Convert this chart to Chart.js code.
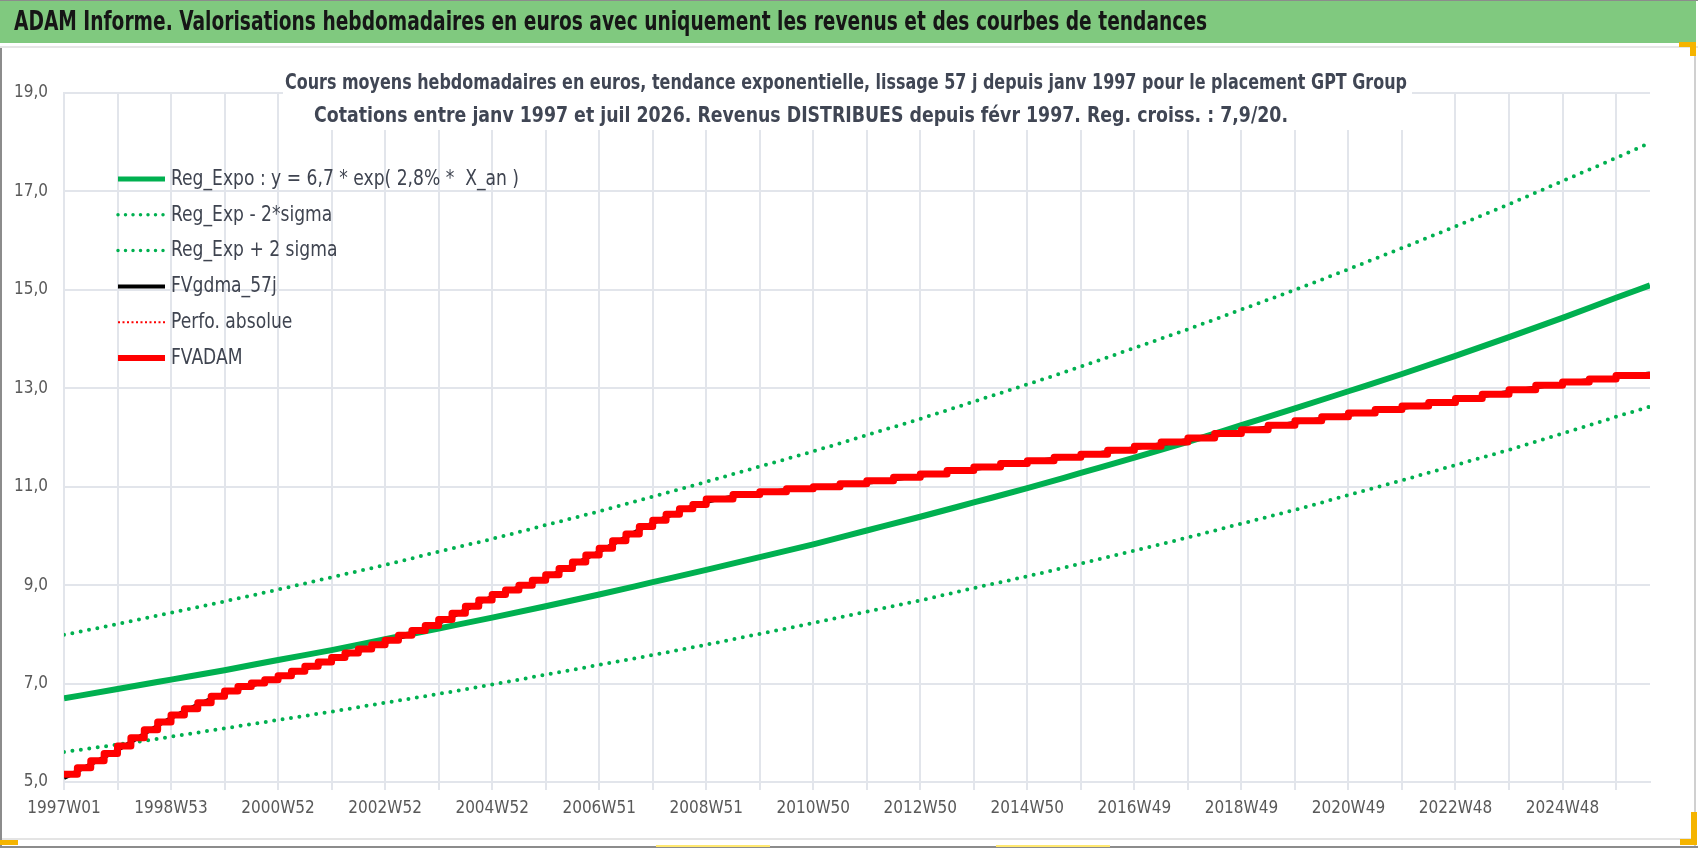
<!DOCTYPE html>
<html>
<head>
<meta charset="utf-8">
<title>ADAM Informe - GPT Group</title>
<script src="https://cdn.jsdelivr.net/npm/chart.js@4.4.1/dist/chart.umd.min.js"></script>
<style>
  html, body { margin: 0; padding: 0; background: #fff; }
  #wrap { position: relative; width: 1698px; height: 848px; overflow: hidden; }
</style>
</head>
<body>
<div id="wrap"><canvas id="adamChart" width="1698" height="848"></canvas></div>
<script>
const FONT = "'Liberation Sans Narrow', 'DejaVu Sans Condensed', Roboto, sans-serif";

// texts
const pageTitle = 'ADAM Informe. Valorisations hebdomadaires en euros avec uniquement les revenus et des courbes de tendances';
const subTitle = [
  'Cours moyens hebdomadaires en euros, tendance exponentielle, lissage 57 j depuis janv 1997 pour le placement GPT Group',
  'Cotations entre janv 1997 et juil 2026. Revenus DISTRIBUES depuis févr 1997. Reg. croiss. : 7,9/20.'
];
const seriesNames = ['Reg_Expo : y = 6,7 * exp( 2,8% *  X_an )', 'Reg_Exp - 2*sigma', 'Reg_Exp + 2 sigma',
  'FVgdma_57j', 'Perfo. absolue', 'FVADAM'];

// x axis: weeks counted from 1997W01, one label every 104 weeks
const tickLabels = ['1997W01', '1998W53', '2000W52', '2002W52', '2004W52', '2006W51', '2008W51', '2010W50',
  '2012W50', '2014W50', '2016W49', '2018W49', '2020W49', '2022W48', '2024W48'];
const lastWeek = 1541; // juil 2026

// yearly samples for the trend curves and the smoothed value
const trendWeeks = [0, 52, 104, 156, 208, 260, 312, 364, 416, 468, 520, 572, 624, 676, 728, 780, 832, 884,
  936, 988, 1040, 1092, 1144, 1196, 1248, 1300, 1352, 1404, 1456, 1508, 1541];
const regExpo = [6.70, 6.89, 7.08, 7.27, 7.48, 7.68, 7.90, 8.12, 8.34, 8.57, 8.81, 9.06, 9.31, 9.57, 9.83,
  10.11, 10.39, 10.68, 10.97, 11.28, 11.59, 11.91, 12.25, 12.59, 12.94, 13.29, 13.66, 14.04, 14.43, 14.84, 15.09];
const regLow = [5.61, 5.76, 5.92, 6.09, 6.26, 6.43, 6.61, 6.79, 6.98, 7.18, 7.38, 7.58, 7.79, 8.01, 8.23,
  8.46, 8.69, 8.94, 9.18, 9.44, 9.70, 9.97, 10.25, 10.53, 10.83, 11.13, 11.44, 11.75, 12.08, 12.42, 12.63];
const regHigh = [7.99, 8.21, 8.44, 8.67, 8.91, 9.16, 9.41, 9.68, 9.94, 10.22, 10.50, 10.80, 11.10, 11.41, 11.72,
  12.05, 12.38, 12.73, 13.08, 13.44, 13.82, 14.20, 14.60, 15.00, 15.42, 15.85, 16.29, 16.74, 17.21, 17.68, 17.99];
const gdma57 = [5.08, 5.65, 6.30, 6.80, 7.11, 7.48, 7.83, 8.23, 8.76, 9.15, 9.68, 10.26, 10.69, 10.87, 10.98,
  11.08, 11.22, 11.36, 11.50, 11.63, 11.78, 11.95, 12.12, 12.30, 12.46, 12.60, 12.75, 12.93, 13.10, 13.22, 13.30];

// FVADAM: quarterly steps until 2008 (every 13 weeks), then half-yearly steps (every 26 weeks from week 624)
const fvQuarterly = [5.16, 5.29, 5.43, 5.58, 5.73, 5.90, 6.06, 6.22, 6.36, 6.49, 6.61, 6.74, 6.85, 6.94, 7.01, 7.08,
  7.16, 7.25, 7.35, 7.44, 7.53, 7.62, 7.70, 7.79, 7.88, 7.98, 8.08, 8.18, 8.30, 8.43, 8.57, 8.70,
  8.81, 8.90, 9.00, 9.10, 9.21, 9.34, 9.47, 9.61, 9.75, 9.90, 10.04, 10.19, 10.32, 10.44, 10.55, 10.64];
const fvHalfYear = [10.75, 10.84, 10.90, 10.96, 11.00, 11.06, 11.12, 11.19, 11.26, 11.33, 11.40, 11.47, 11.53,
  11.60, 11.66, 11.74, 11.82, 11.91, 11.99, 12.08, 12.16, 12.25, 12.34, 12.42, 12.50, 12.57, 12.64, 12.71,
  12.79, 12.88, 12.97, 13.06, 13.13, 13.19, 13.26];
const fvLast = 13.32;

const xy = (weeks, values) => values.map((v, i) => ({ x: weeks[i], y: v }));
const fvPoints = fvQuarterly.map((v, i) => ({ x: 13 * i, y: v }))
  .concat(fvHalfYear.map((v, j) => ({ x: 624 + 26 * j, y: v })))
  .concat([{ x: lastWeek, y: fvLast }]);

const gridWeeks = [];
for (let w = 0; w <= lastWeek; w += 52) gridWeeks.push(w);

const GREEN = '#00B050';
const RED = '#FF0000';
const GRID = '#E2E5EB';
const TEXT = '#404654';

// legend sample styles, one per dataset
const legendStyle = [
  { width: 5, dash: [], cap: 'butt' },
  { width: 3.5, dash: [0, 7.5], cap: 'round' },
  { width: 3.5, dash: [0, 7.5], cap: 'round' },
  { width: 4, dash: [], cap: 'butt' },
  { width: 2, dash: [2, 2.5], cap: 'butt' },
  { width: 6, dash: [], cap: 'butt' }
];

function drawFitted(ctx, text, x, y, width, font, color) {
  ctx.save();
  ctx.font = font;
  ctx.fillStyle = color;
  ctx.textBaseline = 'middle';
  ctx.textAlign = 'left';
  const w = ctx.measureText(text).width;
  ctx.translate(x, y);
  ctx.scale(width / w, 1);
  ctx.fillText(text, 0, 0);
  ctx.restore();
}

// background, green header bar and sheet borders
const framePlugin = {
  id: 'frame',
  beforeDraw(chart) {
    const ctx = chart.ctx;
    ctx.save();
    ctx.fillStyle = '#fff';
    ctx.fillRect(0, 0, 1698, 848);
    ctx.fillStyle = '#80C97F';
    ctx.fillRect(0, 0, 1696, 43);
    ctx.fillStyle = '#8C8C8C';
    ctx.fillRect(0, 0, 1698, 1);
    ctx.fillStyle = '#E6E6E6';
    ctx.fillRect(0, 46, 1698, 2);
    ctx.fillStyle = '#8C8C8C';
    ctx.fillRect(0, 48, 2, 800);
    ctx.fillRect(0, 846, 1698, 2);
    ctx.fillStyle = '#D0D0D0';
    ctx.fillRect(1694, 48, 2, 798);
    ctx.fillStyle = '#E4E4E4';
    ctx.fillRect(2, 838, 1692, 2);
    ctx.fillStyle = '#F5B400';
    ctx.fillRect(1679, 42, 17, 5);
    ctx.fillRect(1690, 42, 6, 14);
    ctx.fillRect(0, 840, 18, 5);
    ctx.fillRect(1691, 812, 6, 33);
    ctx.fillRect(1680, 839, 17, 6);
    ctx.fillStyle = '#FFE870';
    ctx.fillRect(656, 845, 114, 2);
    ctx.fillRect(996, 845, 114, 2);
    ctx.restore();
    drawFitted(ctx, pageTitle, 14, 23, 1193, 'bold 26px ' + FONT, '#161616');
  }
};

// subtitle in its white box over the top of the plot
const subtitlePlugin = {
  id: 'subtitleBox',
  beforeDatasetsDraw(chart) {
    const ctx = chart.ctx;
    ctx.save();
    ctx.fillStyle = '#fff';
    ctx.fillRect(283, 60, 1129, 70);
    ctx.restore();
    drawFitted(ctx, subTitle[0], 285, 83, 1122, 'bold 22px ' + FONT, TEXT);
    drawFitted(ctx, subTitle[1], 314, 116, 974, 'bold 22px ' + FONT, TEXT);
  }
};

// legend drawn inside the plot area, top left
const legendPlugin = {
  id: 'insideLegend',
  afterDatasetsDraw(chart) {
    const ctx = chart.ctx;
    const font = '22px ' + FONT;
    ctx.save();
    ctx.font = font;
    const sx = 348 / ctx.measureText(seriesNames[0]).width;
    ctx.restore();
    chart.data.datasets.forEach((ds, i) => {
      const y = 179 + i * 35.8;
      const st = legendStyle[i];
      ctx.save();
      ctx.strokeStyle = ds.borderColor;
      ctx.lineWidth = st.width;
      ctx.lineCap = st.cap;
      ctx.setLineDash(st.dash);
      ctx.beginPath();
      ctx.moveTo(118, y);
      ctx.lineTo(165, y);
      ctx.stroke();
      ctx.restore();
      ctx.save();
      ctx.font = font;
      ctx.fillStyle = '#3F4450';
      ctx.textBaseline = 'middle';
      ctx.translate(171, y);
      ctx.scale(sx, 1);
      ctx.fillText(ds.label, 0, 0);
      ctx.restore();
    });
  }
};

const dotted = { borderWidth: 4, borderDash: [0, 8.5], borderCapStyle: 'round' };

new Chart(document.getElementById('adamChart'), {
  type: 'line',
  data: {
    datasets: [{
      label: seriesNames[0],
      data: xy(trendWeeks, regExpo),
      borderColor: GREEN,
      borderWidth: 6,
      cubicInterpolationMode: 'monotone',
      order: 6
    }, {
      label: seriesNames[1],
      data: xy(trendWeeks, regLow),
      borderColor: GREEN,
      ...dotted,
      cubicInterpolationMode: 'monotone',
      order: 5
    }, {
      label: seriesNames[2],
      data: xy(trendWeeks, regHigh),
      borderColor: GREEN,
      ...dotted,
      cubicInterpolationMode: 'monotone',
      order: 4
    }, {
      label: seriesNames[3],
      data: xy(trendWeeks, gdma57),
      borderColor: '#000000',
      borderWidth: 4,
      cubicInterpolationMode: 'monotone',
      order: 2
    }, {
      label: seriesNames[4],
      data: [],
      borderColor: RED,
      borderWidth: 2,
      borderDash: [2, 2.5],
      order: 3
    }, {
      label: seriesNames[5],
      data: fvPoints,
      borderColor: RED,
      borderWidth: 7,
      stepped: true,
      borderJoinStyle: 'round',
      order: 1
    }]
  },
  options: {
    responsive: false,
    animation: false,
    parsing: false,
    layout: { padding: { top: 93, right: 48, bottom: 0, left: 0 } },
    elements: { point: { radius: 0 }, line: { fill: false } },
    scales: {
      x: {
        type: 'linear',
        min: 0,
        max: lastWeek,
        afterBuildTicks: axis => { axis.ticks = gridWeeks.map(v => ({ value: v })); },
        afterFit: axis => { axis.height = 66; },
        ticks: {
          autoSkip: false,
          maxRotation: 0,
          padding: 8,
          color: '#595959',
          font: { family: FONT, size: 17 },
          callback: v => (v % 104 === 0 ? tickLabels[v / 104] : '')
        },
        grid: { color: GRID, lineWidth: 2, tickLength: 8, drawTicks: true },
        border: { display: true, color: GRID, width: 2 }
      },
      y: {
        min: 5,
        max: 19,
        afterFit: axis => { axis.width = 64; },
        ticks: {
          stepSize: 2,
          padding: 16,
          color: '#595959',
          font: { family: FONT, size: 17 },
          callback: v => v.toFixed(1).replace('.', ',')
        },
        grid: { color: GRID, lineWidth: 2, drawTicks: false },
        border: { display: true, color: GRID, width: 2 }
      }
    },
    plugins: {
      legend: { display: false },
      title: { display: false },
      tooltip: { enabled: false }
    }
  },
  plugins: [framePlugin, subtitlePlugin, legendPlugin]
});
</script>
</body>
</html>
